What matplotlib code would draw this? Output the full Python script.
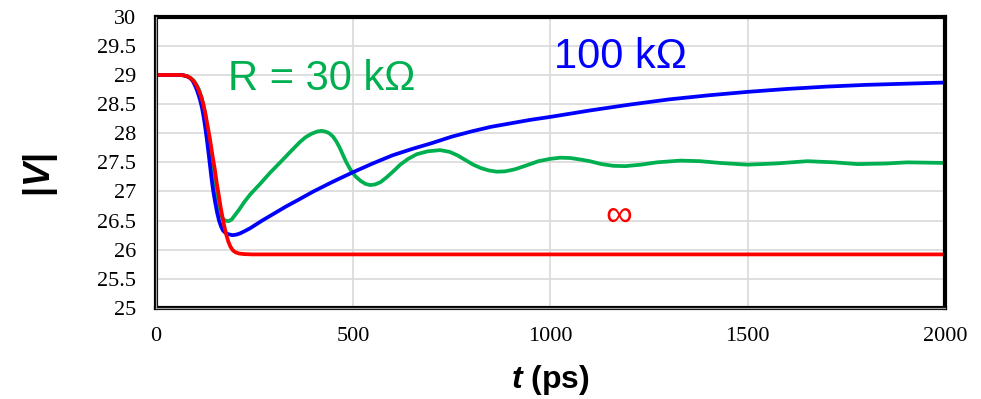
import matplotlib
matplotlib.use("Agg")
import matplotlib.pyplot as plt

# values
red_t = [0, 60, 70, 80, 88, 96, 103, 110, 116, 121, 126, 130, 134, 138, 142, 146, 151,
         155, 160, 165, 170, 175, 180, 185, 190, 196, 203, 212, 225, 245, 2000]
red_v = [29, 29, 28.995, 28.98, 28.95, 28.9, 28.83, 28.73, 28.62, 28.5, 28.35, 28.2,
         28.05, 27.9, 27.72, 27.55, 27.35, 27.15, 26.95, 26.73, 26.55, 26.38, 26.24,
         26.13, 26.05, 25.99, 25.955, 25.935, 25.925, 25.92, 25.92]

blue_t = [0, 60, 70, 80, 87, 94, 100, 106, 113, 118, 122, 126, 130, 134, 138, 142,
          146, 151, 156, 161, 166, 171, 177, 185, 195, 205, 214, 226, 240, 270, 300,
          330, 360, 400, 450, 500, 550, 600, 650, 700, 750, 800, 850, 900, 950, 1000,
          1100, 1200, 1300, 1400, 1500, 1600, 1700, 1800, 1900, 2000]
blue_v = [29, 29, 28.995, 28.975, 28.95, 28.9, 28.82, 28.72, 28.57, 28.43, 28.28,
          28.1, 27.9, 27.68, 27.45, 27.22, 27.02, 26.82, 26.64, 26.5, 26.4, 26.33,
          26.29, 26.265, 26.25, 26.26, 26.28, 26.32, 26.37, 26.5, 26.62, 26.74, 26.85,
          27.0, 27.17, 27.33, 27.48, 27.62, 27.73, 27.83, 27.94, 28.03, 28.11, 28.17,
          28.23, 28.28, 28.39, 28.49, 28.58, 28.65, 28.71, 28.76, 28.8, 28.83, 28.85,
          28.87]

green_t = [0, 60, 70, 80, 88, 96, 103, 110, 116, 121, 126, 130, 134, 138, 142, 146,
           151, 156, 161, 166, 171, 177, 185, 193, 202, 212, 225, 240, 265, 290, 316,
           340, 366, 380, 395, 410, 420, 430, 440, 450, 458, 466, 474, 482, 490, 498,
           508, 520, 532, 544, 556, 570, 585, 603, 620, 640, 662, 690, 721, 745, 765,
           785, 805, 825, 845, 865, 885, 910, 941, 970, 1000, 1025, 1050, 1075, 1100,
           1130, 1160, 1190, 1230, 1270, 1330, 1380, 1430, 1499, 1570, 1651, 1720,
           1778, 1850, 1904, 2000]
green_v = [29, 29, 28.995, 28.98, 28.95, 28.91, 28.84, 28.75, 28.63, 28.5, 28.33,
           28.15, 27.95, 27.73, 27.5, 27.28, 27.05, 26.85, 26.7, 26.59, 26.53, 26.5,
           26.49, 26.52, 26.6, 26.69, 26.82, 26.95, 27.13, 27.32, 27.5, 27.67, 27.85,
           27.93, 27.99, 28.03, 28.04, 28.03, 28.0, 27.94, 27.86, 27.76, 27.64, 27.52,
           27.42, 27.33, 27.25, 27.18, 27.13, 27.11, 27.12, 27.16, 27.24, 27.35, 27.46,
           27.56, 27.64, 27.69, 27.71, 27.68, 27.62, 27.54, 27.46, 27.4, 27.36, 27.34,
           27.345, 27.38, 27.45, 27.52, 27.56, 27.58, 27.575, 27.55, 27.52, 27.47,
           27.44, 27.435, 27.46, 27.5, 27.53, 27.52, 27.49, 27.46, 27.48, 27.52, 27.5,
           27.47, 27.48, 27.5, 27.49]

x_ticks = [0, 500, 1000, 1500, 2000]
y_ticks = [25, 25.5, 26, 26.5, 27, 27.5, 28, 28.5, 29, 29.5, 30]
y_labels = ["25", "25.5", "26", "26.5", "27", "27.5", "28", "28.5", "29", "29.5", "30"]

plt.rcParams["mathtext.fontset"] = "custom"
plt.rcParams["mathtext.it"] = "Liberation Sans:bold:italic"
plt.rcParams["mathtext.rm"] = "Liberation Sans:bold"

fig = plt.figure(figsize=(9.81, 3.99), dpi=100)
ax = fig.add_axes([155.5 / 981, 1 - 308 / 399, (945 - 155.5) / 981, (308 - 16.7) / 399])

for t, v, c in [(green_t, green_v, "#00b050"), (blue_t, blue_v, "#0000ff"),
                (red_t, red_v, "#ff0000")]:
    ax.plot(t, v, color=c, lw=2.7, solid_capstyle="round", solid_joinstyle="round")

ax.set_xlim(0, 2000)
ax.set_ylim(25, 30)
ax.set_xticks(x_ticks)
ax.set_yticks(y_ticks)
ax.set_yticklabels(y_labels)
for lab in ax.get_xticklabels() + ax.get_yticklabels():
    lab.set_fontfamily("Liberation Serif")
    lab.set_fontsize(16)
ax.tick_params(length=0, pad=14)
ax.grid(True, color="#d9d9d9", lw=1.2)
ax.set_axisbelow(True)

for s in ax.spines.values():
    s.set_linewidth(3)
    s.set_color("black")
# grey middle stripe of the left / bottom frame
ax.plot([0, 0], [0, 1], transform=ax.transAxes, color="#a0a0a0", lw=0.9, clip_on=False, zorder=5)
ax.plot([0, 1], [0, 0], transform=ax.transAxes, color="#a0a0a0", lw=0.9, clip_on=False, zorder=5)

ax.text(184, 28.74, "R = 30 k\u03a9", color="#00b050", fontsize=30,
        family="Liberation Sans", va="baseline", ha="left")
ax.text(1009, 29.12, "100 k\u03a9", color="#0000ff", fontsize=30,
        family="Liberation Sans", va="baseline", ha="left")
ax.text(1173, 26.58, "\u221e", color="#ff0000", fontsize=27,
        family="Liberation Sans", va="center", ha="center")

ax.set_ylabel(r"|$V$|", fontsize=26, fontweight="bold", family="Liberation Sans")
ax.yaxis.set_label_coords(-0.121, 0.457)
ax.set_xlabel(r"$t$ (ps)", fontsize=23, fontweight="bold", family="Liberation Sans")
ax.xaxis.set_label_coords(0.5, -0.19)

fig.savefig("out.png", dpi=100)
